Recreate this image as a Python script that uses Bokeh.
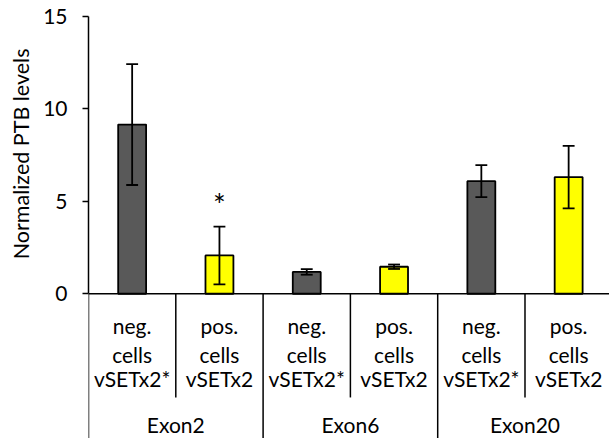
from bokeh.plotting import figure
from bokeh.models import Range1d, FixedTicker, ColumnDataSource, Title
from bokeh.core.properties import value
from bokeh.embed import file_html
from bokeh.resources import INLINE

# ---- data ----
groups = ["Exon2", "Exon6", "Exon20"]
sub_line1 = ["neg.", "pos.", "neg.", "pos.", "neg.", "pos."]
sub_line2 = ["cells", "cells", "cells", "cells", "cells", "cells"]
sub_line3 = ["vSETx2*", "vSETx2", "vSETx2*", "vSETx2", "vSETx2*", "vSETx2"]
values = [9.15, 2.07, 1.18, 1.46, 6.09, 6.31]
errors = [3.27, 1.56, 0.15, 0.12, 0.87, 1.69]
colors = ["#595959", "#FFFF00", "#595959", "#FFFF00", "#595959", "#FFFF00"]
stars = ["", "*", "", "", "", ""]
y_ticks = [0, 5, 10, 15]
y_label = "Normalized PTB levels"

FONT = "Lato"
FS = "21px"

n = len(values)
xc = [i + 0.5 for i in range(n)]
upper = [v + e for v, e in zip(values, errors)]
lower = [v - e for v, e in zip(values, errors)]
Y_BOTTOM = -7.83

p = figure(width=609, height=438, output_backend="svg", toolbar_location=None,
           x_range=Range1d(0, 5.968), y_range=Range1d(Y_BOTTOM, 15.86),
           min_border_left=88, min_border_right=0, min_border_top=0,
           min_border_bottom=0)
p.xaxis.visible = False
p.xgrid.visible = False
p.ygrid.visible = False
p.outline_line_color = None
p.background_fill_color = "white"
p.border_fill_color = "white"

ax = p.yaxis[0]
ax.bounds = (0, 15)
ax.ticker = FixedTicker(ticks=y_ticks)
ax.minor_tick_line_color = None
ax.major_tick_in = 0
ax.major_tick_out = 6
ax.major_tick_line_color = "black"
ax.major_tick_line_width = 1.5
ax.axis_line_color = "black"
ax.axis_line_width = 1.5
ax.major_label_text_font = FONT
ax.major_label_text_font_size = FS
ax.major_label_text_color = "black"
ax.major_label_standoff = 15

# y-axis title, placed along the 0..15 span of the axis
p.add_layout(Title(text=y_label, align="right", offset=48, vertical_align="middle",
                   text_font=FONT, text_font_size="21.5px", text_font_style="normal",
                   text_color="black", standoff=11), "left")

src = ColumnDataSource(dict(x=xc, top=values, color=colors, up=upper, lo=lower,
                            star=stars, star_y=[u + 1.24 for u in upper],
                            l1=sub_line1, l2=sub_line2, l3=sub_line3))

# bars
p.vbar(x="x", top="top", bottom=0, width=0.32, fill_color="color",
       line_color="black", line_width=1.8, source=src)

# error bars
p.segment(x0="x", y0="lo", x1="x", y1="up", line_color="black", line_width=1.8, source=src)
cap = 0.068
p.segment(x0=[x - cap for x in xc], y0=upper, x1=[x + cap for x in xc], y1=upper,
          line_color="black", line_width=1.8)
p.segment(x0=[x - cap for x in xc], y0=lower, x1=[x + cap for x in xc], y1=lower,
          line_color="black", line_width=1.8)

# significance
p.text(x="x", y="star_y", text="star", source=src, text_font=value(FONT),
       text_font_size="30px", text_align="center", text_baseline="alphabetic",
       text_color="black")

# category axis (baseline + separators)
p.segment(x0=[0], y0=[0], x1=[n], y1=[0], line_color="black", line_width=1.5)
sub_seps = [1, 3, 5]
grp_seps = [0, 2, 4, 6]
p.segment(x0=sub_seps, y0=[0] * 3, x1=sub_seps, y1=[-5.61] * 3,
          line_color="black", line_width=1.5)
p.segment(x0=grp_seps, y0=[0] * 4, x1=grp_seps, y1=[Y_BOTTOM] * 4,
          line_color="black", line_width=1.5)

for col, yy in (("l1", -1.71), ("l2", -3.26), ("l3", -4.58)):
    p.text(x="x", y=yy, text=col, source=src, text_font=value(FONT),
           text_font_size=FS, text_align="center", text_baseline="alphabetic",
           text_color="black")

p.text(x=[1, 3, 5], y=[-7.07] * 3, text=groups, text_font=value(FONT),
       text_font_size=FS, text_align="center", text_baseline="alphabetic",
       text_color="black")

open("out.html", "w").write(file_html(p, INLINE))
